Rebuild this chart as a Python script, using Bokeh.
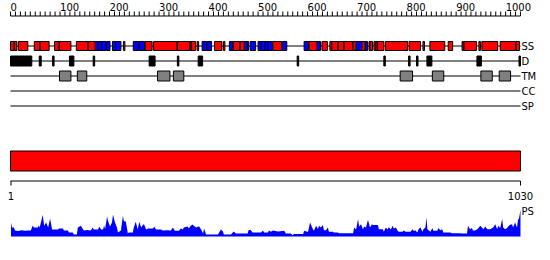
from bokeh.plotting import figure
from bokeh.models import Range1d
from bokeh.embed import file_html
from bokeh.resources import INLINE
from bokeh.core.properties import value

SEQ_LEN = 1030

RULER_TICKS = list(range(0, SEQ_LEN + 1, 10))
RULER_LABEL_POS = [0, 100, 200, 300, 400, 500, 600, 700, 800, 900, 1000]
RULER_LABELS = ["0", "100", "200", "300", "400", "500", "600", "700", "800", "900", "1000"]

# secondary structure: H = helix (red), E = strand (blue)
SS_START = [1, 9, 17, 49, 61, 90, 100, 134, 158, 172, 178, 185, 195, 207, 213, 229, 249, 261, 273, 290, 338, 364, 366, 378,
            388, 398, 413, 431, 443, 451, 465, 473, 485, 501, 507, 515, 521, 531, 550, 594, 604, 620, 630, 646, 650, 663, 675,
            693, 699, 711, 717, 725, 727, 735, 739, 742, 758, 806, 834, 848, 885, 913, 917, 947, 953, 990, 1022]
SS_END = [7, 13, 35, 59, 78, 98, 122, 156, 172, 178, 185, 193, 201, 213, 223, 231, 259, 271, 286, 336, 362, 366, 374, 380,
          396, 406, 427, 433, 449, 463, 481, 479, 495, 507, 515, 521, 529, 548, 558, 602, 620, 626, 640, 650, 661, 673, 691,
          699, 711, 717, 721, 727, 731, 737, 741, 754, 802, 828, 836, 877, 893, 915, 941, 949, 984, 1020, 1028]
SS_TYPE = ["H", "H", "H", "H", "H", "H", "H", "H", "H", "E", "E", "E", "E", "E", "E", "H", "E", "E", "H", "H", "H", "H", "H", "H",
           "E", "E", "H", "H", "E", "H", "H", "E", "E", "E", "E", "E", "E", "H", "E", "E", "H", "E", "H", "H", "H", "H", "H",
           "H", "E", "H", "E", "H", "H", "H", "H", "H", "H", "H", "H", "H", "H", "H", "H", "H", "H", "H", "H"]

# disorder
D_START = [1, 59, 86, 120, 168, 281, 338, 380, 580, 755, 805, 821, 842, 943, 1028]
D_END = [43, 62, 88, 128, 170, 292, 340, 388, 582, 757, 807, 823, 851, 951, 1030]

# transmembrane
TM_START = [100, 136, 298, 330, 788, 853, 951, 988]
TM_END = [122, 154, 322, 350, 812, 875, 973, 1010]

TRACK_LABELS = ["SS", "D", "TM", "CC", "SP"]

# PS profile
PS_RES = [1, 3, 7, 9, 15, 22, 30, 36, 41, 45, 47, 55, 57, 59, 65, 68, 72, 76, 80, 84, 96, 98, 106, 108, 116, 118, 126, 128,
          134, 136, 142, 148, 155, 162, 166, 168, 177, 179, 183, 187, 189, 191, 195, 197, 201, 205, 207, 211, 215, 217, 223,
          227, 229, 233, 237, 239, 247, 249, 253, 257, 260, 264, 268, 270, 274, 278, 288, 290, 294, 304, 308, 316, 324, 328,
          332, 340, 344, 348, 350, 358, 360, 364, 368, 370, 375, 379, 381, 385, 389, 391, 395, 409, 419, 425, 429, 431, 445,
          451, 455, 467, 479, 481, 485, 489, 506, 510, 512, 520, 522, 526, 530, 540, 553, 556, 566, 570, 572, 591, 593, 599,
          601, 605, 611, 613, 617, 621, 623, 627, 631, 633, 637, 641, 643, 651, 653, 661, 663, 692, 694, 698, 702, 704, 708,
          712, 714, 718, 722, 726, 730, 732, 742, 744, 752, 754, 758, 762, 764, 768, 772, 774, 778, 782, 784, 792, 794, 798,
          808, 812, 814, 818, 822, 824, 828, 832, 834, 838, 840, 842, 848, 852, 854, 862, 864, 868, 872, 874, 888, 892, 908,
          912, 922, 924, 928, 932, 934, 938, 943, 945, 949, 953, 955, 959, 963, 969, 973, 975, 979, 983, 985, 989, 993, 995,
          999, 1003, 1005, 1009, 1013, 1015, 1019, 1023, 1025, 1027, 1030]
PS_VAL = [0.47, 0.30, 0.30, 0.20, 0.18, 0.21, 0.19, 0.20, 0.20, 0.37, 0.30, 0.30, 0.37, 0.30, 0.72, 0.36, 0.47, 0.30, 0.60,
          0.23, 0.23, 0.27, 0.27, 0.20, 0.20, 0.13, 0.13, 0.07, 0.07, 0.30, 0.36, 0.20, 0.22, 0.20, 0.30, 0.23, 0.23, 0.33,
          0.23, 0.23, 0.37, 0.25, 0.67, 0.52, 0.33, 0.47, 0.73, 0.47, 0.30, 0.13, 0.20, 0.69, 0.52, 0.49, 0.10, 0.13, 0.13,
          0.30, 0.49, 0.23, 0.49, 0.30, 0.40, 0.40, 0.23, 0.27, 0.27, 0.33, 0.23, 0.23, 0.20, 0.21, 0.20, 0.30, 0.19, 0.19,
          0.27, 0.23, 0.30, 0.33, 0.27, 0.36, 0.40, 0.36, 0.30, 0.33, 0.33, 0.23, 0.10, 0.27, 0.07, 0.07, 0.07, 0.23, 0.17,
          0.07, 0.07, 0.17, 0.10, 0.10, 0.10, 0.22, 0.22, 0.13, 0.13, 0.20, 0.13, 0.13, 0.20, 0.16, 0.20, 0.17, 0.19, 0.10,
          0.10, 0.04, 0.08, 0.08, 0.19, 0.16, 0.16, 0.47, 0.23, 0.19, 0.36, 0.25, 0.36, 0.30, 0.38, 0.21, 0.21, 0.30, 0.16,
          0.16, 0.13, 0.13, 0.11, 0.11, 0.30, 0.23, 0.58, 0.33, 0.41, 0.23, 0.33, 0.30, 0.56, 0.30, 0.41, 0.38, 0.38, 0.24,
          0.24, 0.16, 0.30, 0.23, 0.32, 0.23, 0.36, 0.27, 0.30, 0.19, 0.16, 0.16, 0.20, 0.16, 0.16, 0.24, 0.19, 0.20, 0.13,
          0.24, 0.30, 0.16, 0.24, 0.30, 0.63, 0.24, 0.16, 0.28, 0.19, 0.19, 0.28, 0.21, 0.24, 0.13, 0.13, 0.11, 0.11, 0.10,
          0.10, 0.36, 0.24, 0.28, 0.20, 0.20, 0.24, 0.28, 0.36, 0.28, 0.24, 0.33, 0.24, 0.24, 0.28, 0.30, 0.41, 0.24, 0.36,
          0.28, 0.58, 0.30, 0.24, 0.28, 0.33, 0.39, 0.41, 0.30, 0.47, 0.30, 0.56, 0.60, 0.89]

W, H = 550, 260
FONT = value("DejaVu Sans")

p = figure(width=W, height=H, output_backend="svg", toolbar_location=None,
           x_range=Range1d(-20.2, 1090.6), y_range=Range1d(260, 0),
           x_axis_location=None, y_axis_location=None, min_border=0,
           outline_line_color=None, background_fill_color="white", border_fill_color="white")
p.grid.visible = False
p.extra_y_ranges = {"ps": Range1d(-0.80, 7.867)}

# top ruler
p.segment(x0=[0], y0=[15.5], x1=[SEQ_LEN], y1=[15.5], line_color="black", line_width=1)
p.segment(x0=RULER_TICKS, y0=[11] * len(RULER_TICKS), x1=RULER_TICKS, y1=[15.5] * len(RULER_TICKS),
          line_color="black", line_width=1)
p.text(x=RULER_LABEL_POS, y=[6] * len(RULER_LABEL_POS), text=RULER_LABELS,
       text_font=FONT, text_font_size="10px", text_align="left", text_baseline="middle", text_color="black")

# track baselines
TRACK_Y = [45.5, 60.5, 75.5, 90.5, 105.5]
p.segment(x0=[0] * 5, y0=TRACK_Y, x1=[SEQ_LEN] * 5, y1=TRACK_Y, line_color="black", line_width=1)
p.text(x=[SEQ_LEN] * 5, y=TRACK_Y, text=TRACK_LABELS, x_offset=1, text_font=FONT, text_font_size="10px",
       text_align="left", text_baseline="middle", text_color="black")

# SS
ss_col = ["#ff0000" if t == "H" else "#0000ff" for t in SS_TYPE]
p.quad(left=[s - 1 for s in SS_START], right=SS_END, top=[41] * len(SS_START),
       bottom=[50] * len(SS_START), fill_color=ss_col, line_color="black", line_width=1)

# D
p.quad(left=[s - 1 for s in D_START], right=D_END, top=[55.5] * len(D_START),
       bottom=[65.5] * len(D_START), fill_color="black", line_color="black", line_width=1)

# TM
p.quad(left=[s - 1 for s in TM_START], right=TM_END, top=[70.5] * len(TM_START),
       bottom=[80.5] * len(TM_START), fill_color="#808080", line_color="black", line_width=1)

# full-length bar
p.quad(left=[0], right=[SEQ_LEN], top=[150.5], bottom=[170.5], fill_color="#ff0000",
       line_color="black", line_width=1)

# bottom ruler
p.segment(x0=[0], y0=[180.5], x1=[SEQ_LEN], y1=[180.5], line_color="black", line_width=1)
p.segment(x0=[1, SEQ_LEN], y0=[180.5, 180.5], x1=[1, SEQ_LEN], y1=[185, 185], line_color="black", line_width=1)
p.text(x=[1, SEQ_LEN], y=[195, 195], text=["1", str(SEQ_LEN)], text_font=FONT, text_font_size="10px",
       text_align="center", text_baseline="middle", text_color="black")

# PS profile
p.varea(x=PS_RES, y1=[0] * len(PS_RES), y2=PS_VAL, y_range_name="ps", fill_color="#0000ff")
p.text(x=[SEQ_LEN], y=[211], text=["PS"], x_offset=1, text_font=FONT, text_font_size="10px",
       text_align="left", text_baseline="middle", text_color="black")

open("out.html", "w").write(file_html(p, INLINE))
